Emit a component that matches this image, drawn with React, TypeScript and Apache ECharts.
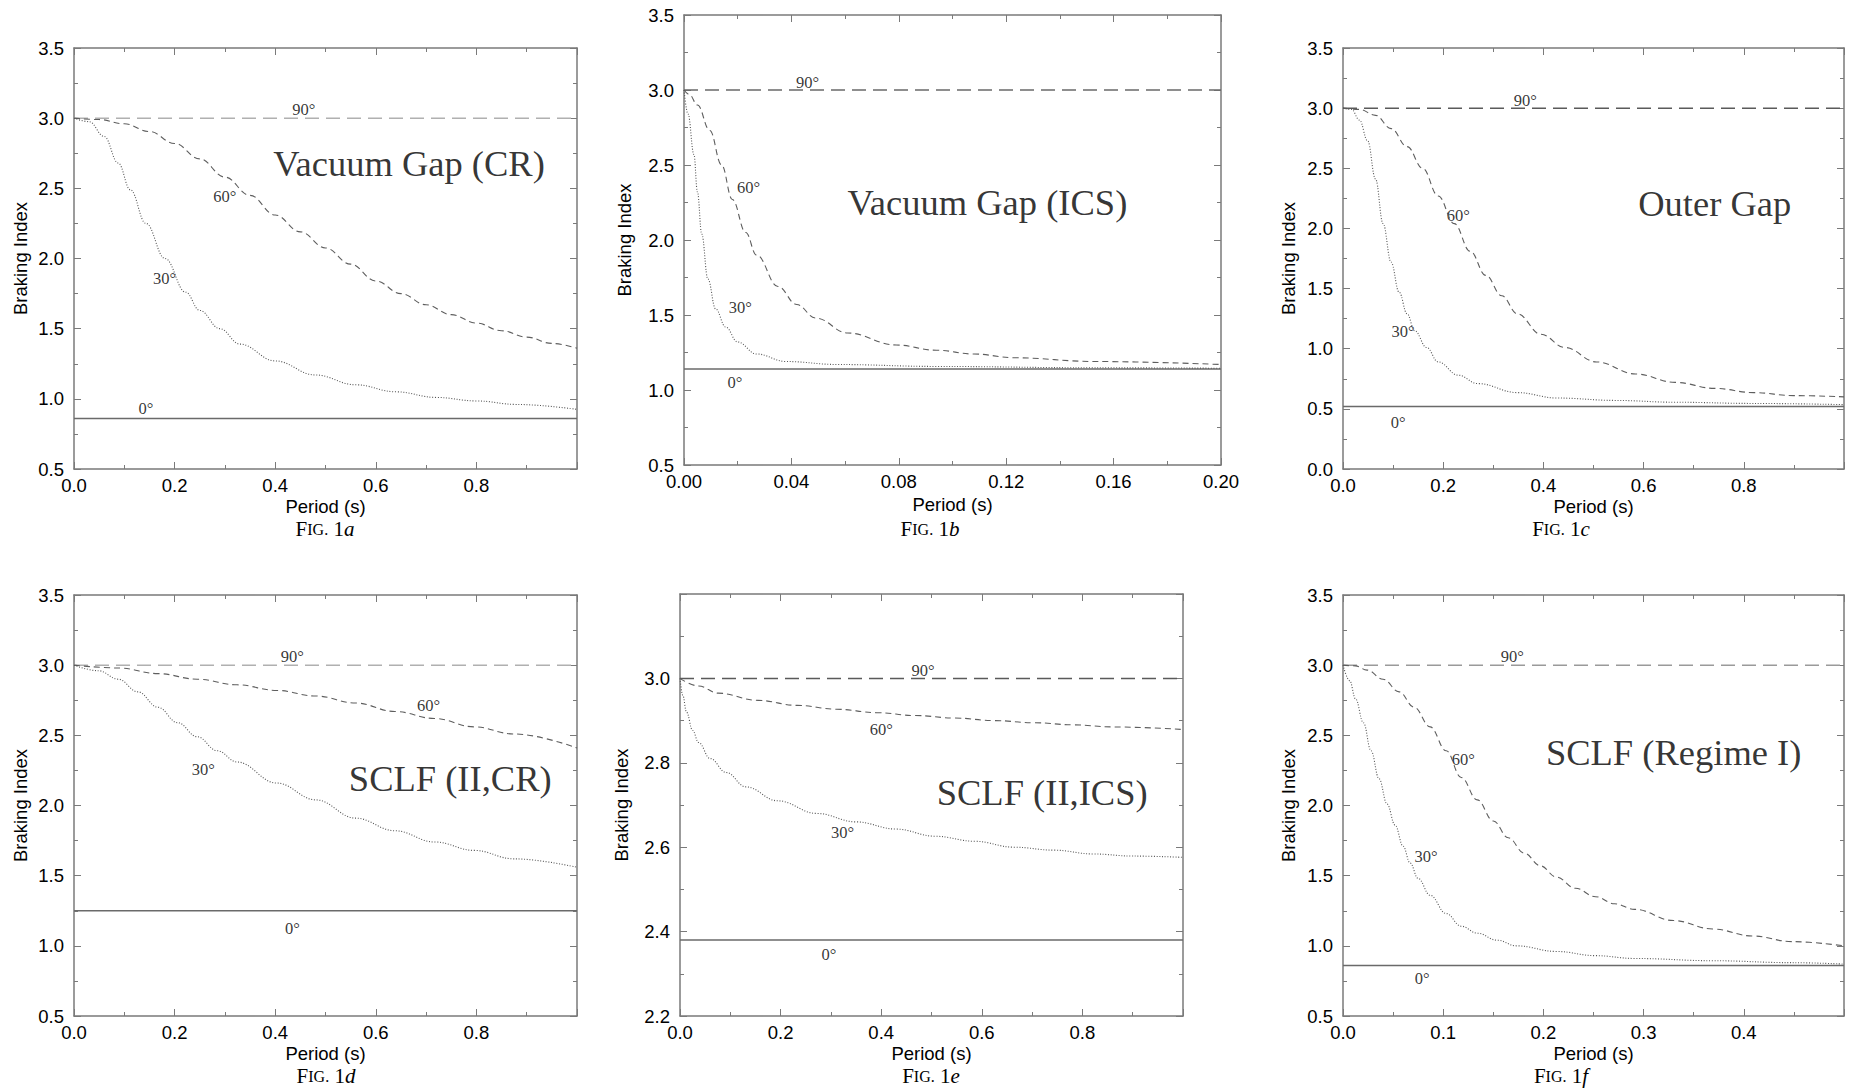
import React, { useEffect, useRef } from "react";
import * as echarts from "echarts";

const SANS = "'Liberation Sans', Arial, Helvetica, sans-serif";
const SERIF = "'Liberation Serif', 'Times New Roman', Times, serif";

type Pt = [number, number];
type Note = [number, number, string];

// ---------- Fig. 1a : Vacuum Gap (CR) ----------
const aXRange = [0, 1.0, 0.2];
const aYRange = [0.5, 3.5, 0.5];
const a0deg = 0.86;
const a90deg = 3.0;
const a60deg: Pt[] = [[0, 3.0], [0.05, 2.99], [0.1, 2.96], [0.15, 2.905], [0.2, 2.82], [0.25, 2.71], [0.3, 2.58], [0.35, 2.45], [0.4, 2.31], [0.45, 2.19], [0.5, 2.075], [0.55, 1.96], [0.6, 1.84], [0.65, 1.75], [0.7, 1.67], [0.75, 1.6], [0.8, 1.54], [0.85, 1.485], [0.9, 1.44], [0.95, 1.395], [1.0, 1.36]];
const a30deg: Pt[] = [[0, 3.0], [0.03, 2.975], [0.06, 2.87], [0.088, 2.68], [0.112, 2.49], [0.143, 2.25], [0.181, 2.0], [0.222, 1.76], [0.25, 1.63], [0.29, 1.5], [0.33, 1.39], [0.4, 1.27], [0.48, 1.17], [0.56, 1.1], [0.64, 1.05], [0.72, 1.01], [0.8, 0.985], [0.88, 0.96], [1.0, 0.925]];
const aNotes: Note[] = [[0.457, 3.06, "90°"], [0.3, 2.44, "60°"], [0.18, 1.86, "30°"], [0.143, 0.93, "0°"]];
const aTitle: Note = [0.666, 2.68, "Vacuum Gap (CR)"];

// ---------- Fig. 1b : Vacuum Gap (ICS) ----------
const bXRange = [0, 0.2, 0.04];
const bYRange = [0.5, 3.5, 0.5];
const b0deg = 1.14;
const b90deg = 3.0;
const b60deg: Pt[] = [[0, 3.0], [0.002, 2.97], [0.005, 2.9], [0.0096, 2.73], [0.014, 2.5], [0.018, 2.27], [0.023, 2.05], [0.027, 1.9], [0.035, 1.69], [0.042, 1.57], [0.049, 1.48], [0.061, 1.38], [0.079, 1.3], [0.094, 1.265], [0.108, 1.24], [0.123, 1.215], [0.153, 1.19], [0.2, 1.17]];
const b30deg: Pt[] = [[0, 3.0], [0.0015, 2.84], [0.0037, 2.57], [0.005, 2.32], [0.0066, 2.04], [0.0089, 1.74], [0.0118, 1.54], [0.0155, 1.42], [0.02, 1.32], [0.027, 1.24], [0.038, 1.19], [0.057, 1.17], [0.094, 1.157], [0.153, 1.148], [0.2, 1.145]];
const bNotes: Note[] = [[0.046, 3.05, "90°"], [0.024, 2.35, "60°"], [0.021, 1.55, "30°"], [0.019, 1.05, "0°"]];
const bTitle: Note = [0.113, 2.25, "Vacuum Gap (ICS)"];

// ---------- Fig. 1c : Outer Gap ----------
const cXRange = [0, 1.0, 0.2];
const cYRange = [0, 3.5, 0.5];
const c0deg = 0.52;
const c90deg = 3.0;
const c60deg: Pt[] = [[0, 3.0], [0.033, 2.99], [0.065, 2.94], [0.096, 2.83], [0.128, 2.68], [0.159, 2.5], [0.19, 2.27], [0.222, 2.04], [0.254, 1.81], [0.285, 1.61], [0.317, 1.44], [0.348, 1.29], [0.395, 1.12], [0.443, 1.01], [0.506, 0.89], [0.584, 0.79], [0.663, 0.72], [0.742, 0.67], [0.82, 0.635], [0.9, 0.61], [1.0, 0.6]];
const c30deg: Pt[] = [[0, 3.0], [0.017, 2.99], [0.033, 2.9], [0.049, 2.73], [0.065, 2.41], [0.08, 2.04], [0.096, 1.72], [0.112, 1.47], [0.128, 1.29], [0.143, 1.15], [0.167, 1.01], [0.19, 0.89], [0.23, 0.78], [0.269, 0.71], [0.348, 0.635], [0.427, 0.59], [0.545, 0.57], [0.663, 0.555], [0.82, 0.545], [1.0, 0.535]];
const cNotes: Note[] = [[0.364, 3.06, "90°"], [0.23, 2.11, "60°"], [0.12, 1.14, "30°"], [0.11, 0.39, "0°"]];
const cTitle: Note = [0.742, 2.21, "Outer Gap"];

// ---------- Fig. 1d : SCLF (II,CR) ----------
const dXRange = [0, 1.0, 0.2];
const dYRange = [0.5, 3.5, 0.5];
const d0deg = 1.25;
const d90deg = 3.0;
const d60deg: Pt[] = [[0, 3.0], [0.088, 2.98], [0.167, 2.94], [0.245, 2.9], [0.324, 2.86], [0.403, 2.82], [0.481, 2.78], [0.56, 2.73], [0.638, 2.67], [0.717, 2.62], [0.796, 2.56], [0.874, 2.51], [1.0, 2.41]];
const d30deg: Pt[] = [[0, 3.0], [0.049, 2.96], [0.088, 2.9], [0.127, 2.81], [0.167, 2.7], [0.206, 2.59], [0.245, 2.49], [0.285, 2.39], [0.324, 2.31], [0.403, 2.16], [0.481, 2.04], [0.56, 1.91], [0.638, 1.82], [0.717, 1.74], [0.796, 1.68], [0.874, 1.62], [1.0, 1.56]];
const dNotes: Note[] = [[0.434, 3.06, "90°"], [0.705, 2.71, "60°"], [0.257, 2.26, "30°"], [0.434, 1.12, "0°"]];
const dTitle: Note = [0.748, 2.19, "SCLF (II,CR)"];

// ---------- Fig. 1e : SCLF (II,ICS) ----------
const eXRange = [0, 1.0, 0.2];
const eYRange = [2.2, 3.2, 0.2];
const e0deg = 2.38;
const e90deg = 3.0;
const e60deg: Pt[] = [[0, 3.0], [0.037, 2.982], [0.076, 2.965], [0.155, 2.948], [0.233, 2.936], [0.311, 2.927], [0.39, 2.919], [0.468, 2.912], [0.547, 2.906], [0.625, 2.9], [0.704, 2.895], [0.782, 2.89], [0.86, 2.885], [1.0, 2.879]];
const e30deg: Pt[] = [[0, 3.0], [0.0055, 2.96], [0.013, 2.92], [0.025, 2.877], [0.037, 2.848], [0.06, 2.81], [0.092, 2.777], [0.131, 2.743], [0.194, 2.71], [0.272, 2.68], [0.35, 2.66], [0.429, 2.643], [0.507, 2.626], [0.586, 2.614], [0.664, 2.6], [0.743, 2.593], [0.821, 2.584], [0.9, 2.579], [1.0, 2.576]];
const eNotes: Note[] = [[0.483, 3.019, "90°"], [0.4, 2.88, "60°"], [0.323, 2.636, "30°"], [0.296, 2.346, "0°"]];
const eTitle: Note = [0.72, 2.73, "SCLF (II,ICS)"];

// ---------- Fig. 1f : SCLF (Regime I) ----------
const fXRange = [0, 0.5, 0.1];
const fYRange = [0.5, 3.5, 0.5];
const f0deg = 0.86;
const f90deg = 3.0;
const f60deg: Pt[] = [[0, 3.0], [0.0125, 2.995], [0.024, 2.965], [0.04, 2.9], [0.056, 2.81], [0.071, 2.7], [0.087, 2.56], [0.103, 2.39], [0.118, 2.2], [0.134, 2.04], [0.15, 1.89], [0.165, 1.77], [0.181, 1.66], [0.197, 1.57], [0.213, 1.49], [0.232, 1.41], [0.252, 1.35], [0.271, 1.3], [0.291, 1.26], [0.33, 1.18], [0.369, 1.12], [0.409, 1.07], [0.448, 1.03], [0.5, 1.0]];
const f30deg: Pt[] = [[0, 3.0], [0.0067, 2.89], [0.0125, 2.76], [0.0204, 2.59], [0.028, 2.39], [0.036, 2.19], [0.044, 2.01], [0.052, 1.86], [0.06, 1.71], [0.067, 1.59], [0.075, 1.48], [0.087, 1.36], [0.103, 1.23], [0.118, 1.14], [0.134, 1.09], [0.154, 1.04], [0.173, 1.0], [0.213, 0.96], [0.252, 0.93], [0.291, 0.91], [0.369, 0.894], [0.448, 0.88], [0.5, 0.87]];
const fNotes: Note[] = [[0.169, 3.06, "90°"], [0.12, 2.33, "60°"], [0.083, 1.64, "30°"], [0.079, 0.77, "0°"]];
const fTitle: Note = [0.33, 2.38, "SCLF (Regime I)"];

const captionLetters = ["a", "b", "c", "d", "e", "f"];

const FRAME = "#7a7a7a";

interface Panel {
  box: [number, number, number, number];
  xr: number[];
  yr: number[];
  xDigits: number;
  hideXMax: boolean;
  hideYMax: boolean;
  zero: number;
  ninety: number;
  s60: Pt[];
  s30: Pt[];
  notes: Note[];
  title: Note;
  c90: string;
  xGap: number;
  yGap: number;
  caption: [number, number];
}

const panels: Panel[] = [
  { box: [74, 48, 503, 421], xr: aXRange, yr: aYRange, xDigits: 1, hideXMax: true, hideYMax: false, zero: a0deg, ninety: a90deg, s60: a60deg, s30: a30deg, notes: aNotes, title: aTitle, c90: "#b0b0b0", xGap: 28, yGap: 44, caption: [325, 529] },
  { box: [684, 15, 537, 450], xr: bXRange, yr: bYRange, xDigits: 2, hideXMax: false, hideYMax: false, zero: b0deg, ninety: b90deg, s60: b60deg, s30: b30deg, notes: bNotes, title: bTitle, c90: "#6a6a6a", xGap: 30, yGap: 50, caption: [930, 529] },
  { box: [1343, 48, 501, 421], xr: cXRange, yr: cYRange, xDigits: 1, hideXMax: true, hideYMax: false, zero: c0deg, ninety: c90deg, s60: c60deg, s30: c30deg, notes: cNotes, title: cTitle, c90: "#5a5a5a", xGap: 28, yGap: 45, caption: [1561, 529] },
  { box: [74, 595, 503, 421], xr: dXRange, yr: dYRange, xDigits: 1, hideXMax: true, hideYMax: false, zero: d0deg, ninety: d90deg, s60: d60deg, s30: d30deg, notes: dNotes, title: dTitle, c90: "#b0b0b0", xGap: 28, yGap: 44, caption: [326, 1076] },
  { box: [680, 594, 503, 422], xr: eXRange, yr: eYRange, xDigits: 1, hideXMax: true, hideYMax: true, zero: e0deg, ninety: e90deg, s60: e60deg, s30: e30deg, notes: eNotes, title: eTitle, c90: "#5a5a5a", xGap: 28, yGap: 49, caption: [931, 1076] },
  { box: [1343, 595, 501, 421], xr: fXRange, yr: fYRange, xDigits: 1, hideXMax: true, hideYMax: false, zero: f0deg, ninety: f90deg, s60: f60deg, s30: f30deg, notes: fNotes, title: fTitle, c90: "#9a9a9a", xGap: 28, yGap: 45, caption: [1561, 1076] },
];

function buildOption() {
  const grid: any[] = [];
  const xAxis: any[] = [];
  const yAxis: any[] = [];
  const series: any[] = [];
  const graphic: any[] = [];

  const tick = { show: true, inside: true, length: 7, lineStyle: { color: FRAME, width: 1 } };
  const minor = { show: true, splitNumber: 2, length: 4, lineStyle: { color: FRAME, width: 1 } };
  const axLine = { show: true, onZero: false, lineStyle: { color: FRAME, width: 1.5 } };
  const labelFont = { fontFamily: SANS, fontSize: 18.5, color: "#000" };

  panels.forEach((p, i) => {
    grid.push({ left: p.box[0], top: p.box[1], width: p.box[2], height: p.box[3], containLabel: false });
    const [x0, x1, xi] = p.xr;
    const [y0, y1, yi] = p.yr;
    const xFmt = (v: number) => (p.hideXMax && v > x1 - xi / 2 ? "" : v.toFixed(p.xDigits));
    const yFmt = (v: number) => (p.hideYMax && v > y1 - yi / 2 ? "" : v.toFixed(1));
    xAxis.push({
      type: "value", gridIndex: i, position: "bottom", min: x0, max: x1, interval: xi,
      axisLine: axLine, axisTick: tick, minorTick: minor, splitLine: { show: false },
      axisLabel: { show: true, margin: 7, formatter: xFmt, ...labelFont },
      name: "Period (s)", nameLocation: "middle", nameGap: p.xGap, nameTextStyle: { ...labelFont },
    });
    xAxis.push({
      type: "value", gridIndex: i, position: "top", min: x0, max: x1, interval: xi,
      axisLine: axLine, axisTick: tick, minorTick: minor, splitLine: { show: false },
      axisLabel: { show: false },
    });
    yAxis.push({
      type: "value", gridIndex: i, position: "left", min: y0, max: y1, interval: yi,
      axisLine: axLine, axisTick: tick, minorTick: minor, splitLine: { show: false },
      axisLabel: { show: true, margin: 10, formatter: yFmt, ...labelFont },
      name: "Braking Index", nameLocation: "middle", nameGap: p.yGap, nameTextStyle: { ...labelFont },
    });
    yAxis.push({
      type: "value", gridIndex: i, position: "right", min: y0, max: y1, interval: yi,
      axisLine: axLine, axisTick: tick, minorTick: minor, splitLine: { show: false },
      axisLabel: { show: false },
    });

    const ax = { xAxisIndex: 2 * i, yAxisIndex: 2 * i };
    series.push({
      type: "line", ...ax, name: "0°", silent: true, symbol: "none",
      data: [[x0, p.zero], [x1, p.zero]],
      lineStyle: { color: "#6a6a6a", width: 1.6, type: "solid" },
    });
    series.push({
      type: "line", ...ax, name: "90°", silent: true, symbol: "none",
      data: [[x0, p.ninety], [x1, p.ninety]],
      lineStyle: { color: p.c90, width: 1.5, type: [14, 7] },
    });
    series.push({
      type: "line", ...ax, name: "60°", silent: true, symbol: "none", smooth: 0.4, smoothMonotone: "x",
      data: p.s60,
      lineStyle: { color: "#5e5e5e", width: 1.1, type: [6, 4] },
    });
    series.push({
      type: "line", ...ax, name: "30°", silent: true, symbol: "none", smooth: 0.4, smoothMonotone: "x",
      data: p.s30,
      lineStyle: { color: "#555", width: 1.1, type: [1, 1.7] },
    });
    series.push({
      type: "scatter", ...ax, silent: true, symbol: "circle", symbolSize: 1,
      itemStyle: { color: "rgba(0,0,0,0)" },
      data: p.notes.map((n) => ({ value: [n[0], n[1]], label: { formatter: n[2] } })),
      label: { show: true, position: "inside", fontFamily: SERIF, fontSize: 16.5, color: "#000" },
    });
    series.push({
      type: "scatter", ...ax, silent: true, symbol: "circle", symbolSize: 1,
      itemStyle: { color: "rgba(0,0,0,0)" },
      data: [{ value: [p.title[0], p.title[1]], label: { formatter: p.title[2] } }],
      label: { show: true, position: "inside", fontFamily: SERIF, fontSize: 36.5, color: "#000" },
    });

    graphic.push({
      type: "text",
      x: p.caption[0],
      y: p.caption[1],
      silent: true,
      style: {
        text: "{a|F}{b|IG.}{a| 1}{i|" + captionLetters[i] + "}",
        align: "center",
        verticalAlign: "middle",
        rich: {
          a: { fontFamily: SERIF, fontSize: 21, fill: "#000", color: "#000" },
          b: { fontFamily: SERIF, fontSize: 16, fill: "#000", color: "#000" },
          i: { fontFamily: SERIF, fontSize: 21, fontStyle: "italic", fill: "#000", color: "#000" },
        },
      },
    });
  });

  return {
    animation: false,
    backgroundColor: "#ffffff",
    grid,
    xAxis,
    yAxis,
    series,
    graphic,
  };
}

export default function App() {
  const ref = useRef<HTMLDivElement>(null);
  useEffect(() => {
    if (!ref.current) return;
    const chart = echarts.init(ref.current, null, { renderer: "svg", width: 1858, height: 1092 });
    chart.setOption(buildOption() as any);
    return () => chart.dispose();
  }, []);
  return (
    <div
      ref={ref}
      style={{ position: "absolute", left: 0, top: 0, width: 1858, height: 1092, background: "#fff" }}
    />
  );
}
